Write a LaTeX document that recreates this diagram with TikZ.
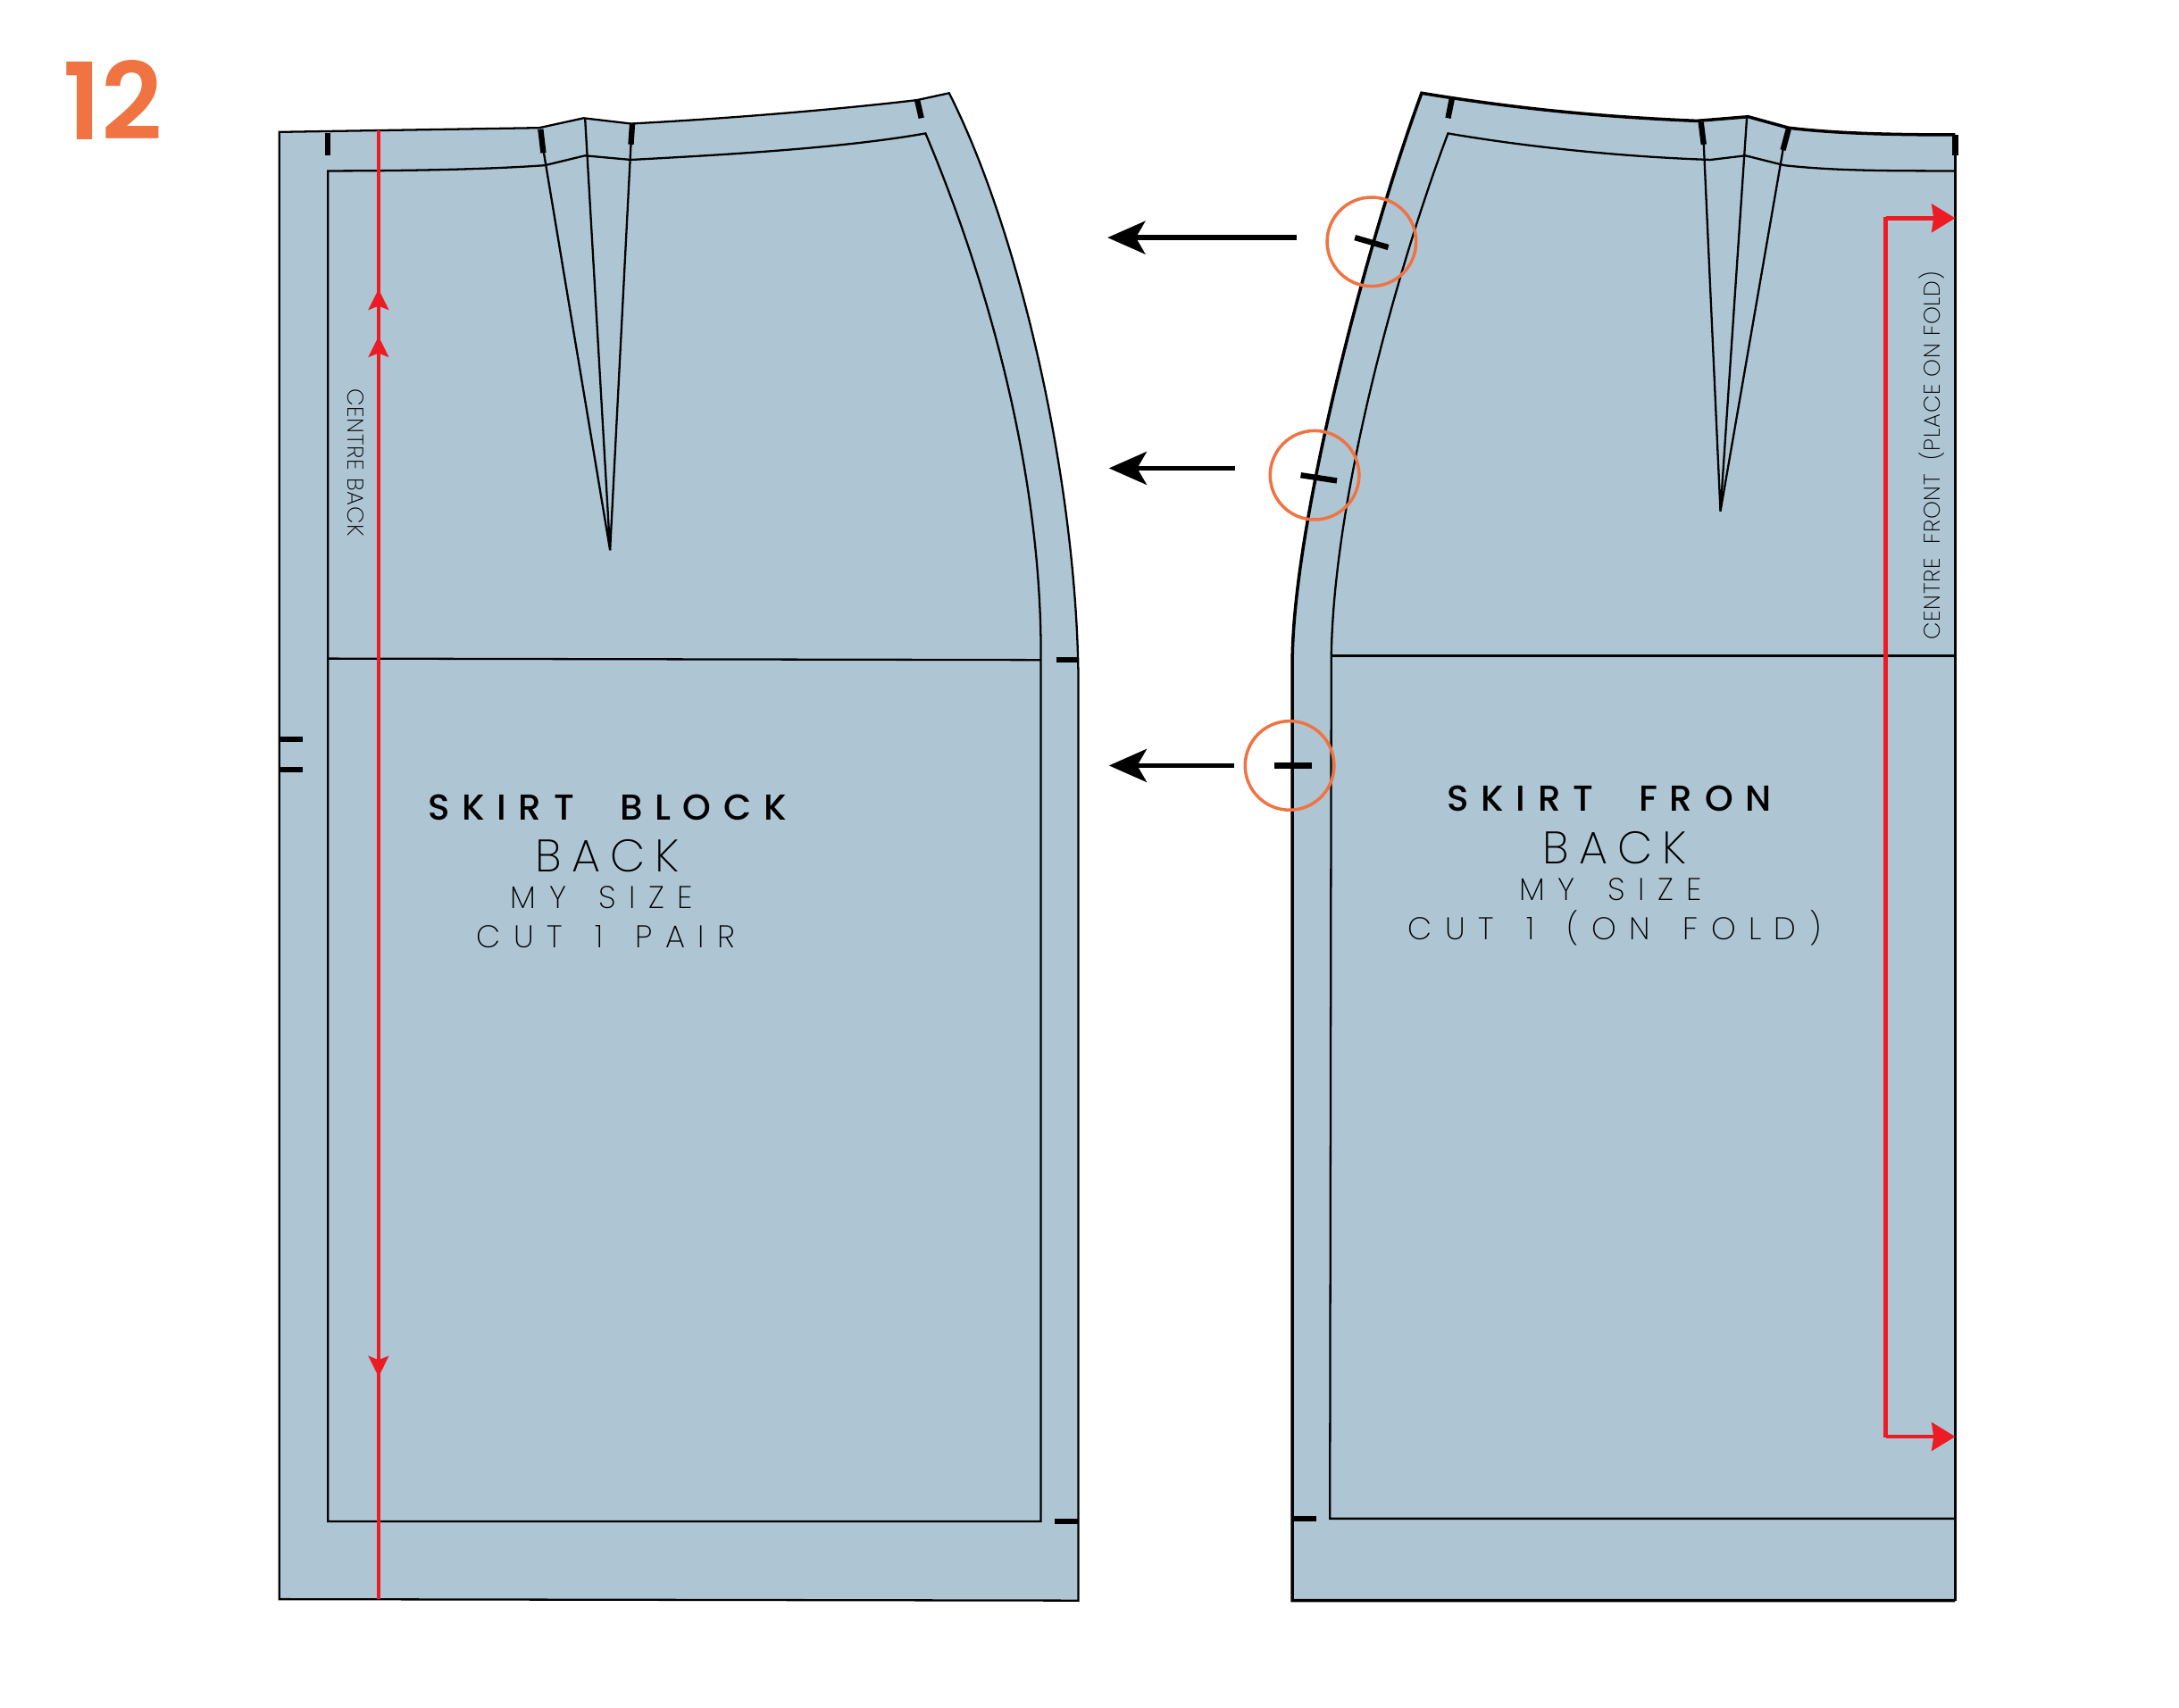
\documentclass[tikz,border=0pt]{standalone}
\usepackage{fontspec}
\setmainfont{Poppins ExtraLight}
\newfontfamily\headfont[LetterSpace=34,WordSpace=2.1]{Poppins Medium}
\newfontfamily\infofont[LetterSpace=41,WordSpace=1.5]{Poppins ExtraLight}
\newfontfamily\piecefont[LetterSpace=22]{Poppins ExtraLight}
\newfontfamily\edgefont[LetterSpace=3]{Poppins ExtraLight}
\newfontfamily\numfont{Poppins SemiBold}
\usetikzlibrary{arrows.meta}
\definecolor{cloth}{HTML}{AEC6D4}
\definecolor{stepcol}{HTML}{F07342}
\definecolor{grainred}{HTML}{ED1C24}
\tikzset{
  seam/.style={black,line width=0.65pt,line join=miter},
  cutline/.style={black,line width=1pt,line join=miter},
  notch/.style={black,line width=1.8pt},
  grain/.style={grainred,line width=1.3pt},
  redtip/.style={-{Stealth[length=6.6pt,width=6.4pt,inset=1.2pt]}},
  redbig/.style={-{Stealth[length=7.5pt,width=9pt,inset=0.6pt]}},
  movearrow/.style={black,line width=1.5pt,-{Stealth[length=12pt,width=10.5pt,inset=3pt]}},
  ring/.style={stepcol,line width=1pt},
  title/.style={font=\headfont\fontsize{11.5}{12}\selectfont},
  piece/.style={font=\piecefont\fontsize{14.5}{16}\selectfont},
  info/.style={font=\infofont\fontsize{10}{11}\selectfont},
  edge/.style={font=\edgefont\fontsize{7.2}{8}\selectfont}
}
\begin{document}
\begin{tikzpicture}[x=0.015561cm,y=-0.015561cm]
\useasboundingbox (0,0) rectangle (1568,1228.7);

\node[text=stepcol,font=\numfont\fontsize{34}{34}\selectfont] (stepno) at (81,72) {12};

\filldraw[seam,fill=cloth] (201,95) -- (388,92) -- (420,85) -- (454,89) .. controls (530,85) and (610,78) .. (660,72) -- (683,67)
  .. controls (735,170) and (775,350) .. (776,490) -- (776,1152) -- (201,1151) -- cycle;
\draw[seam] (236,123) .. controls (290,123) and (350,122) .. (392,119) -- (421,112) -- (454,115)
  .. controls (530,111) and (610,106) .. (666,96) .. controls (710,200) and (750,340) .. (749,475) -- (749,1095) -- (236,1095) -- cycle;
\draw[seam] (236,474) -- (749,475);
\draw[seam] (391,108) -- (439,396) -- (421,85);
\draw[seam] (439,396) -- (454,104);

\draw[notch] (236,96) -- (236,112);
\draw[notch] (389,93) -- (391,110);
\draw[notch] (455,89) -- (454,104);
\draw[notch] (660,72) -- (663,85);
\draw[notch] (760,475) -- (776,475);
\draw[notch] (759,1095) -- (776,1095);
\draw[notch] (201,532) -- (218,532);
\draw[notch] (201,554) -- (218,554);

\draw[grain] (272.4,94) -- (272.4,1151);
\draw[grain,redtip] (272.4,262) -- (272.4,242);
\draw[grain,redtip] (272.4,230) -- (272.4,208);
\draw[grain,redtip] (272.4,970) -- (272.4,991);

\node[rotate=-90,edge] (cbacktext) at (256,333) {CENTRE BACK};
\node[title] (backtitle) at (437,581) {SKIRT BLOCK};
\node[piece] (backname) at (437,616) {BACK};
\node[info] (backsize) at (433,646) {MY SIZE};
\node[info] (backcut) at (436,674) {CUT 1 PAIR};

\fill[cloth] (1023,67) .. controls (985,170) and (932,370) .. (930,472) -- (930,1152) -- (1407,1152) -- (1407,97)
  .. controls (1360,97) and (1320,96) .. (1287,92) -- (1258,84) -- (1221,87) .. controls (1150,84) and (1090,78) .. (1023,67) -- cycle;
\draw[cutline] (1407,97) .. controls (1360,97) and (1320,96) .. (1287,92) -- (1258,84) -- (1221,87)
  .. controls (1150,84) and (1090,78) .. (1023,67) .. controls (985,170) and (932,370) .. (930,472) -- (930,1152) -- (1407,1152);
\draw[seam] (1407,97) -- (1407,1152);
\draw[seam] (1407,123) .. controls (1360,123) and (1320,123) .. (1284,119) -- (1256,112) -- (1231,115)
  .. controls (1170,113) and (1100,106) .. (1042,96) .. controls (1010,180) and (960,350) .. (958,472) -- (957,1093) -- (1407,1093);
\draw[seam] (958,472) -- (1407,472);
\draw[seam] (1226,104) -- (1238,368) -- (1257,85);
\draw[seam] (1238,368) -- (1283,108);

\draw[notch] (1045,70) -- (1042,85);
\draw[notch] (1224,88) -- (1226,104);
\draw[notch] (1287,93) -- (1283,108);
\draw[notch] (1407,97) -- (1407,112);
\draw[notch] (930,1093) -- (947,1093);
\draw[notch] (975,171) -- (999,178);
\draw[notch] (936,342) -- (962,346);
\draw[notch] (917,551) -- (944,551);

\draw[grain,redbig] (1357,157) -- (1407,157);
\draw[grain] (1357,156.4) -- (1357,1034.6);
\draw[grain,redbig] (1357,1034) -- (1407,1034);

\node[rotate=90,edge] (cfronttext) at (1390,328) {CENTRE\hspace{0.3em} FRONT\hspace{0.3em} (PLACE ON FOLD)};
\node[title] (fronttitle) at (1158,575) {SKIRT FRON};
\node[piece] (frontname) at (1162,610) {BACK};
\node[info] (frontsize) at (1159,640) {MY SIZE};
\node[info] (frontcut) at (1162,668) {CUT 1 (ON FOLD)};

\draw[ring] (987,174) circle (32);
\draw[ring] (946,342) circle (32);
\draw[ring] (928,551) circle (32);

\draw[movearrow] (933,171) -- (797,171);
\draw[movearrow] (889,337) -- (798,337);
\draw[movearrow] (888,551) -- (798,551);
\end{tikzpicture}
\end{document}
